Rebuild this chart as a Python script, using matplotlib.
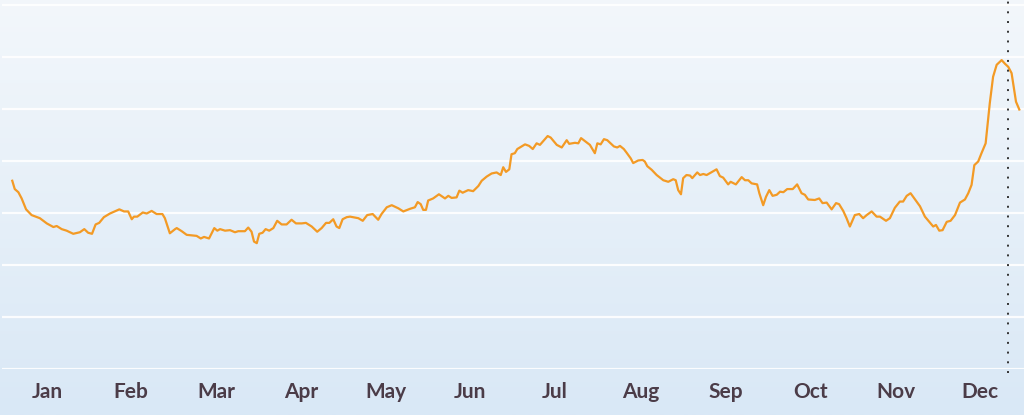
import numpy as np
import matplotlib
matplotlib.use("Agg")
import matplotlib.pyplot as plt
from matplotlib.colors import LinearSegmentedColormap

# Day of year (0 = Jan 1) and the plotted value
days = [0.1, 1.0, 2.3, 3.5, 5.1, 7.1, 10.1, 12.6, 15.0, 16.2, 18.0, 19.8, 22.2, 24.6,
        26.2, 27.6, 29.0, 30.3, 31.6, 33.3, 35.5, 38.9, 40.6, 42.1, 43.4, 44.2, 45.4,
        47.4, 48.8, 50.6, 52.4, 54.5, 55.4, 57.2, 59.1, 59.7, 61.5, 63.3, 66.9, 68.4,
        69.6, 71.4, 73.3, 74.4, 75.4, 77.2, 79.0, 80.8, 82.0, 84.4, 85.6, 86.8, 87.7,
        88.7, 89.6, 90.8, 91.9, 93.2, 94.7, 96.1, 97.7, 99.5, 101.3, 102.9, 105.0,
        106.5, 108.6, 110.6, 112.2, 113.8, 115.0, 116.4, 117.6, 118.6, 119.8, 121.3,
        122.5, 125.5, 127.1, 128.7, 130.7, 132.7, 133.9, 135.8, 137.6, 140.0, 141.8,
        144.2, 146.0, 147.0, 148.1, 149.0, 150.0, 150.8, 152.6, 154.7, 156.9, 158.1,
        159.3, 161.1, 162.1, 163.3, 165.3, 167.1, 169.0, 170.2, 172.0, 173.8, 175.6,
        177.1, 178.0, 179.0, 180.2, 181.0, 182.2, 183.1, 185.9, 187.4, 188.7, 190.1,
        191.3, 194.1, 195.2, 197.4, 199.2, 201.0, 201.9, 204.0, 205.2, 206.2, 207.2,
        209.4, 211.2, 212.1, 213.3, 214.5, 215.7, 218.1, 219.3, 220.3, 221.7, 222.7,
        224.2, 225.1, 226.9, 228.5, 229.3, 230.2, 231.8, 233.6, 236.0, 237.8, 239.6,
        240.5, 241.4, 242.4, 243.2, 244.4, 245.7, 246.5, 248.3, 249.3, 250.5, 251.7,
        255.3, 256.5, 257.7, 259.5, 260.4, 262.3, 264.4, 265.6, 266.8, 268.0, 270.0,
        270.8, 272.2, 273.2, 274.4, 275.6, 277.1, 278.3, 279.5, 280.9, 282.9, 284.5,
        286.1, 287.3, 288.5, 290.9, 292.5, 293.7, 295.2, 297.0, 298.6, 299.7, 301.2,
        302.4, 303.6, 305.4, 307.0, 308.4, 309.7, 311.5, 313.3, 314.5, 316.7, 318.1,
        319.9, 321.7, 322.9, 324.2, 325.6, 327.8, 329.0, 330.8, 332.4, 333.8, 334.8,
        336.0, 337.2, 338.7, 340.1, 341.7, 343.5, 345.3, 346.5, 347.7, 348.7, 350.1,
        351.3, 352.8, 354.3, 355.5, 356.8, 358.6, 359.8, 361.0, 362.2, 363.8, 365.0]
values = [36.2, 34.6, 34.0, 32.8, 30.7, 29.6, 29.0, 28.0, 27.3, 27.5, 26.9, 26.6, 26.0, 26.3,
          26.9, 26.2, 26.0, 27.8, 28.1, 29.2, 29.9, 30.7, 30.3, 30.3, 28.8, 29.3, 29.3,
          30.1, 29.9, 30.4, 29.8, 29.8, 29.0, 26.1, 26.9, 27.1, 26.5, 25.8, 25.6, 25.1,
          25.4, 25.1, 27.1, 26.6, 26.9, 26.6, 26.7, 26.3, 26.5, 26.5, 27.2, 26.4, 24.5,
          24.2, 26.0, 26.2, 26.9, 26.6, 27.1, 28.5, 27.8, 27.8, 28.7, 28.0, 28.0,
          28.1, 27.4, 26.4, 27.1, 28.1, 28.1, 28.8, 27.4, 27.1, 28.8, 29.2,
          29.3, 29.0, 28.5, 29.6, 29.8, 28.7, 29.8, 31.1, 31.5, 30.9, 30.3,
          30.8, 31.1, 32.1, 31.7, 30.6, 30.6, 32.4, 32.8, 33.6, 32.8, 33.3,
          32.9, 33.0, 34.3, 33.9, 34.4, 34.2, 35.2, 36.2, 37.0, 37.6, 37.8,
          37.3, 38.8, 37.9, 38.4, 41.3, 41.5, 42.3, 43.2, 42.9, 42.3, 43.4,
          43.1, 44.8, 44.5, 43.1, 42.6, 44.0, 43.3, 43.5, 43.4, 44.4, 44.0,
          43.1, 41.5, 43.4, 43.2, 44.2, 44.0, 42.8, 42.6, 42.9, 42.3, 41.6,
          40.5, 39.6, 40.1, 40.2, 39.9, 39.0, 38.3, 37.3, 36.3, 36.0, 36.5,
          36.3, 34.4, 33.6, 36.7, 37.3, 37.2, 36.7, 37.8, 37.3, 37.5, 37.3,
          38.4, 37.1, 36.8, 35.5, 36.0, 35.5, 36.9, 36.3, 36.3, 35.7, 35.5,
          33.8, 31.5, 33.1, 34.4, 33.3, 33.5, 34.1, 34.0, 34.6, 34.6, 35.5,
          33.8, 33.5, 32.6, 32.5, 32.8, 31.9, 32.0, 30.7, 31.9, 31.7, 30.4,
          29.0, 27.4, 29.6, 29.8, 29.0, 29.6, 30.3, 29.3, 29.3, 28.5, 29.0,
          31.0, 32.2, 32.2, 33.3, 33.8, 32.2, 31.3, 29.3, 28.3, 27.4, 27.7,
          26.6, 26.7, 28.3, 28.5, 29.6, 32.0, 32.6, 33.8, 35.4, 39.2, 39.9,
          41.5, 43.4, 51.1, 56.2, 58.5, 59.4, 58.7, 58.1, 56.9, 51.4, 49.9]

month_labels = ["Jan", "Feb", "Mar", "Apr", "May", "Jun",
                "Jul", "Aug", "Sep", "Oct", "Nov", "Dec"]
month_ticks = [12.7, 43.1, 73.9, 104.7, 135.5, 165.9, 196.7, 227.9, 258.7, 289.5, 320.3, 350.7]
marker_day = 360.9

W, H = 1024, 415
fig = plt.figure(figsize=(W / 100, H / 100), dpi=100)

# soft vertical gradient behind everything
bg = fig.add_axes([0, 0, 1, 1], zorder=0)
grad = LinearSegmentedColormap.from_list("bg", ["#d9e8f6", "#f3f7fb"])
bg.imshow(np.linspace(0, 1, 256).reshape(-1, 1), aspect="auto", cmap=grad,
          origin="lower", extent=[0, 1, 0, 1])
bg.set_axis_off()

ax = fig.add_axes([2 / W, 46 / H, 1022 / W, 369 / H], zorder=1)
ax.patch.set_alpha(0)
ax.set_xlim(-3.62, 366.7)
ax.set_ylim(0, 70.96)
ax.set_yticks(np.arange(0, 71, 10))
ax.grid(axis="y", color="white", linewidth=1.6, alpha=0.9)
ax.set_axisbelow(True)
for s in ax.spines.values():
    s.set_visible(False)
ax.tick_params(axis="y", left=False, labelleft=False)
ax.set_xticks(month_ticks)
ax.set_xticklabels(month_labels, fontsize=15, fontweight="bold", color="#4b3c48",
                   family=["Lato", "DejaVu Sans"])
ax.tick_params(axis="x", length=0, pad=9)

ax.plot(days, values, color="#f39a25", linewidth=1.6, solid_joinstyle="round", zorder=3)
ax.axvline(marker_day, ymin=-0.01, ymax=1, color="#333333", linewidth=1.4,
           linestyle=(0, (1, 4)), clip_on=False, zorder=4)

fig.savefig("out.png", dpi=100)
